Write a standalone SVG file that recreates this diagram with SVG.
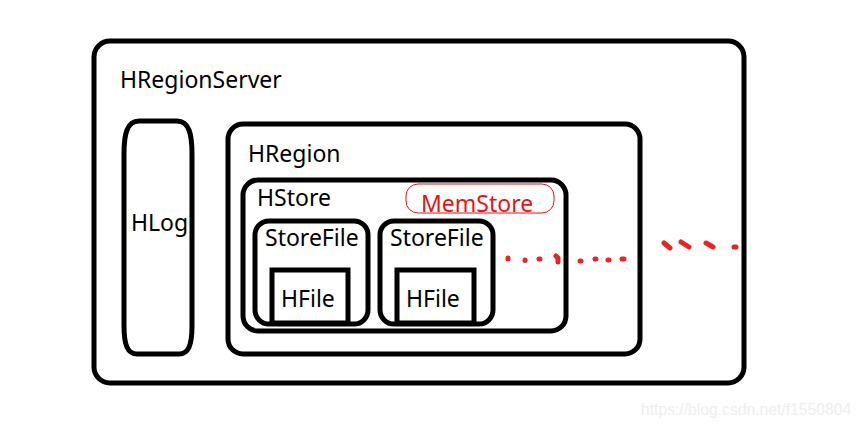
<svg xmlns="http://www.w3.org/2000/svg" width="862" height="428" viewBox="0 0 862 428">
<style>
.box{fill:none;stroke:#000;stroke-width:5}
.t{font-family:"Noto Sans","Open Sans",sans-serif;font-size:23px;fill:#000}
.red{fill:#ee1111}
.dot{stroke:#ee2222;stroke-width:5;stroke-linecap:round;fill:none}
</style>
<rect width="862" height="428" fill="#fff"/>
<g id="hregionserver">
<rect class="box" x="94" y="41" width="650" height="342" rx="16"/>
<text class="t" x="120" y="88">HRegionServer</text>
</g>
<g id="hlog">
<path class="box" d="M139,121 H177 C189,121 192,134 192,154 V326 C192,346 188,354 179,354 H137 C128,354 124,346 124,326 V154 C124,134 127,121 139,121 Z"/>
<text class="t" x="131" y="231">HLog</text>
</g>
<g id="hregion">
<rect class="box" x="228" y="124" width="412" height="230" rx="15"/>
<text class="t" x="248" y="162">HRegion</text>
</g>
<g id="hstore">
<rect class="box" x="243" y="180" width="323" height="151" rx="15"/>
<text class="t" x="257" y="206">HStore</text>
</g>
<g id="memstore">
<rect x="406" y="184" width="148" height="29" rx="12" fill="none" stroke="#ee1111" stroke-width="1"/>
<text class="t red" x="421" y="212">MemStore</text>
</g>
<g id="storefile1">
<rect class="box" x="255" y="221" width="113" height="103" rx="14"/>
<text class="t" x="265" y="246">StoreFile</text>
</g>
<g id="hfile1">
<rect class="box" x="272" y="270" width="76" height="53"/>
<text class="t" x="281" y="307">HFile</text>
</g>
<g id="storefile2">
<rect class="box" x="380" y="221" width="113" height="103" rx="14"/>
<text class="t" x="390" y="246">StoreFile</text>
</g>
<g id="hfile2">
<rect class="box" x="397" y="270" width="77" height="53"/>
<text class="t" x="406" y="307">HFile</text>
</g>
<g id="connectors">
<path class="dot" d="M508,258 v1 M525,260 v0.5 M539,259 h1 M556,256 l2,2 v4 M580,261 h1 M595,259 h1 M608,260 h1 M622,259 h2 M664,243 l6,5 M681,242 l8,5 M706,243 l7,4 M734,247 h2"/>
</g>
<text x="641" y="415" font-family="Liberation Sans, Arial, sans-serif" font-size="15.7" fill="#eeeeee">https://blog.csdn.net/f1550804</text>
</svg>
